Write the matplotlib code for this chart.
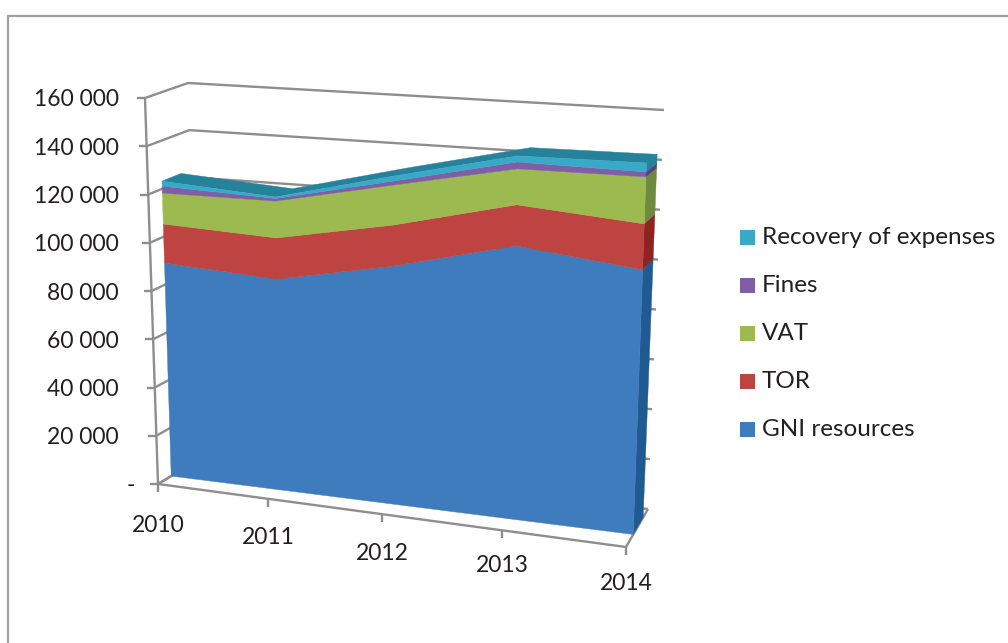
import numpy as np
import matplotlib

matplotlib.use("Agg")
import matplotlib.pyplot as plt
from matplotlib.patches import Rectangle

plt.rcParams["font.family"] = ["Lato", "DejaVu Sans"]

# =========================
# Data
# =========================
YEARS = ["2010", "2011", "2012", "2013", "2014"]
GNI = [89000, 86400, 95800, 107900, 102500]
TOR = [16300, 16900, 16500, 16200, 17800]
VAT = [12900, 15100, 16100, 14200, 18200]
FINES = [2900, 1100, 1600, 2700, 1900]
RECOVERY = [2100, 600, 2000, 2400, 3500]
SERIES_NAMES = ["GNI resources", "TOR", "VAT", "Fines", "Recovery of expenses"]
VALUE_TICKS = [0, 20000, 40000, 60000, 80000, 100000, 120000, 140000, 160000]

# =========================
# Style and 3D box layout
# =========================
FACE_COLORS = ["#3F7CBD", "#BE4441", "#9CBA50", "#7F5EA6", "#39A9C8"]
SIDE_COLORS = ["#1F5A93", "#8E2421", "#6F8A3C", "#5A3F80", "#25829A"]
TOP_COLOR = "#25829A"
LINE_COLOR = "#8E8E8E"
TEXT_COLOR = "#231F20"

VMAX = 160000.0
# pixel corners of the box: front/back, left/right, floor/top
FLOOR_FL = np.array([158.0, 484.0])
FLOOR_FR = np.array([626.0, 547.0])
FLOOR_BL = np.array([198.0, 460.0])
FLOOR_BR = np.array([648.0, 509.0])
TOP_FL = np.array([145.0, 98.0])
TOP_FR = np.array([640.0, 127.0])
TOP_BL = np.array([188.0, 83.0])
TOP_BR = np.array([664.0, 110.0])

YEAR_POS = [0.0, 0.235, 0.479, 0.735, 1.0]
AREA_FRONT = 0.33
AREA_BACK = 0.78


def project(u, value, d):
    v = value / VMAX
    floor = (1 - d) * ((1 - u) * FLOOR_FL + u * FLOOR_FR) + d * ((1 - u) * FLOOR_BL + u * FLOOR_BR)
    top = (1 - d) * ((1 - u) * TOP_FL + u * TOP_FR) + d * ((1 - u) * TOP_BL + u * TOP_BR)
    return (1 - v) * floor + v * top


def draw_line(ax, points):
    pts = np.array(points)
    ax.plot(pts[:, 0], pts[:, 1], color=LINE_COLOR, lw=1.7, solid_capstyle="butt", zorder=2)


def draw_poly(ax, points, color, zorder):
    pts = np.array(points)
    ax.fill(pts[:, 0], pts[:, 1], color=color, lw=0.3, zorder=zorder)


def main():
    fig = plt.figure(figsize=(10.08, 6.43), dpi=100)
    ax = fig.add_axes([0, 0, 1, 1])
    ax.set_xlim(0, 1008)
    ax.set_ylim(643, 0)
    ax.axis("off")

    # chart frame, only the top and left edges are inside the picture
    ax.plot([8, 8, 1008], [643, 16, 16], color="#A0A0A0", lw=1.6, zorder=1)

    # walls and value axis
    draw_line(ax, [project(0, 0, 0), project(0, VMAX, 0)])
    for tick in VALUE_TICKS:
        left = project(0, tick, 0)
        back = project(0, tick, 1)
        right = project(1, tick, 1)
        draw_line(ax, [left, back, right])
        draw_line(ax, [left, left - np.array([8, 0])])
        label = "-" if tick == 0 else f"{tick:,}".replace(",", " ")
        ax.text(119 if tick else 135, left[1] + 2, label, ha="right", va="center",
                fontsize=16.5, color=TEXT_COLOR, zorder=6)

    # floor and category axis
    draw_line(ax, [project(0, 0, 0), project(1, 0, 0), project(1, 0, 1)])
    draw_line(ax, [project(0, 0, 0), project(0, 0, 1)])
    label_y = [525, 537, 553, 566, 584]
    for u, year, y in zip(YEAR_POS, YEARS, label_y):
        base = project(u, 0, 0)
        draw_line(ax, [base, base + np.array([0, 8])])
        ax.text(base[0], y, year, ha="center", va="center", fontsize=16.5,
                color=TEXT_COLOR, zorder=6)

    # stacked area: top surface, right side and front face of each layer
    layers = [GNI, TOR, VAT, FINES, RECOVERY]
    stacks = np.cumsum(np.array(layers, dtype=float), axis=0)
    total = stacks[-1]
    top_front = [project(u, t, AREA_FRONT) for u, t in zip(YEAR_POS, total)]
    top_back = [project(u, t, AREA_BACK) for u, t in zip(YEAR_POS, total)]
    draw_poly(ax, top_front + top_back[::-1], TOP_COLOR, 3)

    lower = np.zeros(len(YEARS))
    for i, upper in enumerate(stacks):
        side = [
            project(1, lower[-1], AREA_FRONT),
            project(1, upper[-1], AREA_FRONT),
            project(1, upper[-1], AREA_BACK),
            project(1, lower[-1], AREA_BACK),
        ]
        draw_poly(ax, side, SIDE_COLORS[i], 4)
        front = [project(u, t, AREA_FRONT) for u, t in zip(YEAR_POS, upper)]
        front += [project(u, t, AREA_FRONT) for u, t in zip(YEAR_POS[::-1], lower[::-1])]
        draw_poly(ax, front, FACE_COLORS[i], 5)
        lower = upper

    # legend, listed from the top layer down
    legend_y = [237, 285, 333, 381, 429]
    for name, color, y in zip(SERIES_NAMES[::-1], FACE_COLORS[::-1], legend_y):
        ax.add_patch(Rectangle((740, y - 7.5), 15, 15, facecolor=color, edgecolor="none", zorder=6))
        ax.text(762, y + 1, name, ha="left", va="center", fontsize=17.5, color=TEXT_COLOR, zorder=6)

    fig.savefig("out.png", dpi=100)
    plt.close(fig)


if __name__ == "__main__":
    main()
